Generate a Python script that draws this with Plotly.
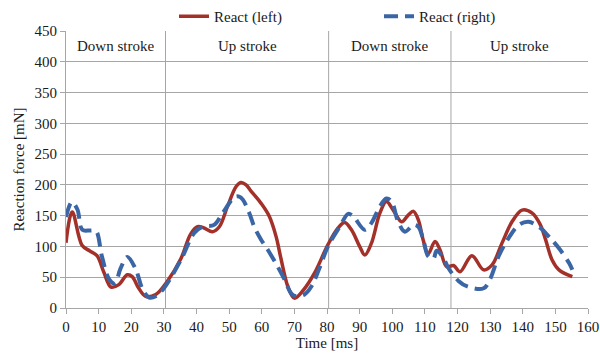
import plotly.graph_objects as go

# Time (ms) and reaction force (mN) for the left side
left_t = [0, 1.9, 4.9, 7.2, 9.5, 11.6, 13.8, 16.2, 18.8, 20.3, 22.3, 24.4, 27.5, 31, 35.2, 38.2, 40.3, 42.3,
          44.9, 47, 49.5, 52.1, 53.6, 55.2, 56.7, 59.8, 62.3, 64.4, 65.9, 68, 70, 72.6, 76.2, 80.3, 83.4,
          85.4, 87.5, 90, 91.6, 93.6, 96.2, 98.2, 100.3, 102.9, 104.9, 106.5, 108, 109.5, 111, 113.1,
          114.6, 116.7, 118.8, 120.8, 124.4, 128, 130.6, 133.6, 136.7, 139.8, 142.9, 145.4, 147, 149,
          151.1, 155.2]
left_f = [106, 156, 102, 93, 85, 58, 34, 38, 54, 51, 32, 19, 22, 43, 80, 120, 132, 130,
          124, 132, 165, 197, 204, 200, 190, 170, 149, 116, 80, 35, 16, 28, 57, 103, 130,
          139, 127, 100, 86, 105, 154, 173, 159, 140, 151, 157, 143, 110, 88, 108,
          95, 67, 69, 59, 85, 62, 70, 105, 140, 159, 154, 135, 111, 78,
          62, 51]

# Time (ms) and reaction force (mN) for the right side
right_t = [0, 1.8, 3.5, 5, 7.5, 9.2, 11, 13.3, 15, 16.7, 18.8, 21.3, 23.5, 25.5, 27.5, 30, 35.2, 39.3,
           41.8, 45.4, 48, 51.6, 53.1, 54.2, 56.2, 57.7, 59.8, 61.8, 64.9, 67, 69, 70.6, 73.1, 75.2,
           77.7, 80.3, 83.9, 86.5, 88, 91.6, 93.6, 96.2, 98.2, 99.8, 101.8, 103.9, 106.5, 108, 109.5,
           111, 112.6, 113.6, 115.7, 117.2, 120.3, 123, 128, 130, 132.6, 135.7, 138.8, 141.8, 145.4,
           148, 151.1, 154.2, 155.2]
right_f = [148, 172, 160, 127, 126, 125, 84, 46, 40, 64, 83, 64, 30, 17, 19, 32, 78, 122,
           132, 135, 154, 180, 181, 176, 154, 132, 111, 95, 67, 46, 24, 19, 22, 35,
           65, 100, 132, 153, 149, 127, 138, 165, 178, 173, 140, 124, 135, 132, 111,
           84, 80, 93, 81, 65, 44, 35, 32, 47, 84, 114, 135, 140, 130,
           116, 97, 73, 62]

x_ticks = list(range(0, 161, 10))
y_ticks = list(range(0, 451, 50))
phase_bounds = [30.5, 80.5, 118]
phase_labels = ["Down stroke", "Up stroke", "Down stroke", "Up stroke"]
phase_edges = [0, 30.5, 80.5, 118, 160]

FONT = "Liberation Serif, Times New Roman, serif"
GRID = "#a6a6a6"
TXT = "#1a1a1a"

fig = go.Figure()
fig.add_trace(go.Scatter(x=left_t, y=left_f, mode="lines", name="React (left)",
                         line=dict(color="#A3312A", width=3.5, shape="spline")))
fig.add_trace(go.Scatter(x=right_t, y=right_f, mode="lines", name="React (right)",
                         line=dict(color="#3B66A6", width=4, shape="spline", dash="14px,7px")))

for xb in phase_bounds:
    fig.add_shape(type="line", x0=xb, x1=xb, y0=0, y1=450, xref="x", yref="y",
                  line=dict(color=GRID, width=1), layer="below")

for i, lab in enumerate(phase_labels):
    fig.add_annotation(x=(phase_edges[i] + phase_edges[i + 1]) / 2, y=425, text=lab,
                       showarrow=False, xref="x", yref="y",
                       font=dict(family=FONT, size=15, color=TXT))

fig.update_layout(
    width=600, height=355,
    margin=dict(l=66, r=12, t=31, b=47, autoexpand=False),
    paper_bgcolor="white", plot_bgcolor="white",
    font=dict(family=FONT, size=15, color=TXT),
    legend=dict(orientation="h", xref="container", yref="container", x=0.29, xanchor="left",
                y=1.0, yanchor="top",
                font=dict(family=FONT, size=15, color=TXT), entrywidth=160,
                bgcolor="rgba(0,0,0,0)"),
    xaxis=dict(range=[0, 160], tickvals=x_ticks, showgrid=False, zeroline=False, automargin=False,
               showline=True, linecolor=GRID, linewidth=1, ticks="outside", ticklen=5,
               tickcolor=GRID, tickfont=dict(family=FONT, size=15, color=TXT),
               title=dict(text="Time [ms]", standoff=2,
                          font=dict(family=FONT, size=15, color=TXT))),
    yaxis=dict(range=[0, 450], tickvals=y_ticks, showgrid=True, gridcolor=GRID, gridwidth=1,
               zeroline=False, showline=True, linecolor=GRID, linewidth=1, ticks="outside",
               automargin=False,
               ticklen=5, tickcolor=GRID, tickfont=dict(family=FONT, size=15, color=TXT),
               title=dict(text="Reaction force [mN]", standoff=6,
                          font=dict(family=FONT, size=15, color=TXT))),
)

fig.write_html("out.html")
